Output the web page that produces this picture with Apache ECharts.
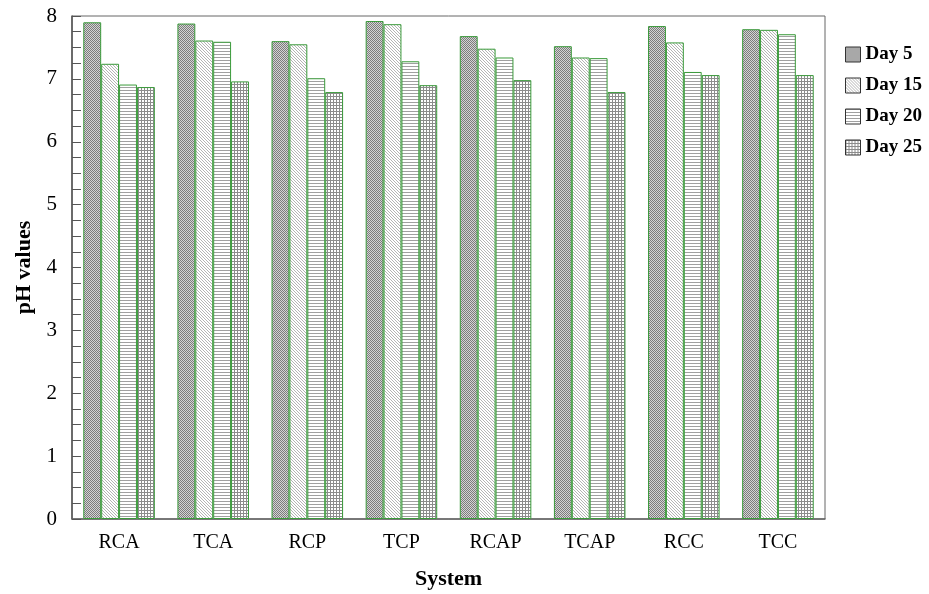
<!DOCTYPE html>
<html>
<head>
<meta charset="utf-8">
<script src="https://cdn.jsdelivr.net/npm/echarts@6/dist/echarts.min.js"></script>
<style>
  html, body { margin: 0; padding: 0; background: #fff; }
  #main { width: 929px; height: 594px; }
</style>
</head>
<body>
<div id="main"></div>
<script>
// 数据
var systems = ['RCA', 'TCA', 'RCP', 'TCP', 'RCAP', 'TCAP', 'RCC', 'TCC'];
var day5  = [7.90, 7.88, 7.60, 7.92, 7.68, 7.52, 7.84, 7.79];
var day15 = [7.24, 7.61, 7.55, 7.87, 7.48, 7.34, 7.58, 7.78];
var day20 = [6.91, 7.59, 7.01, 7.28, 7.34, 7.33, 7.11, 7.71];
var day25 = [6.87, 6.96, 6.79, 6.90, 6.98, 6.79, 7.06, 7.06];
var seriesNames = ['Day 5', 'Day 15', 'Day 20', 'Day 25'];

// 填充图案
function makePattern(kind) {
    var c = document.createElement('canvas');
    var ctx = c.getContext('2d');
    if (kind === 'check') {
        c.width = 2; c.height = 2;
        ctx.fillStyle = '#d4d4d4'; ctx.fillRect(0, 0, 2, 2);
        ctx.fillStyle = '#7c7c7c';
        ctx.fillRect(0, 0, 1, 1); ctx.fillRect(1, 1, 1, 1);
    } else if (kind === 'diag') {
        c.width = 3; c.height = 3;
        ctx.fillStyle = '#fff'; ctx.fillRect(0, 0, 3, 3);
        ctx.fillStyle = '#b4b4b4';
        for (var i = 0; i < 3; i++) ctx.fillRect(i, i, 1, 1);
    } else if (kind === 'horiz') {
        c.width = 3; c.height = 3;
        ctx.fillStyle = '#fff'; ctx.fillRect(0, 0, 3, 3);
        ctx.fillStyle = '#a0a0a0';
        ctx.fillRect(0, 0, 3, 1);
    } else {
        c.width = 3; c.height = 3;
        ctx.fillStyle = '#fff'; ctx.fillRect(0, 0, 3, 3);
        ctx.fillStyle = '#8c8c8c';
        ctx.fillRect(0, 0, 3, 1);
        ctx.fillRect(0, 0, 1, 3);
    }
    return { image: c, repeat: 'repeat' };
}
var patterns = [makePattern('check'), makePattern('diag'), makePattern('horiz'), makePattern('grid')];
var allData = [day5, day15, day20, day25];

var myChart = echarts.init(document.getElementById('main'));

var series = [];
for (var k = 0; k < 4; k++) {
    series.push({
        name: seriesNames[k],
        type: 'bar',
        data: allData[k],
        barGap: '0%',
        barCategoryGap: '24%',
        itemStyle: {
            color: patterns[k],
            borderColor: '#3a9a3a',
            borderWidth: 1
        }
    });
}

var option = {
    animation: false,
    textStyle: { fontFamily: 'Liberation Serif' },
    grid: {
        left: 72, right: 104, top: 16, bottom: 75,
        outerBoundsMode: 'none',
        containLabel: false,
        show: true, borderColor: '#666', borderWidth: 1
    },
    legend: {
        orient: 'vertical',
        left: 840,
        top: 40,
        itemWidth: 15,
        itemHeight: 15,
        itemGap: 12,
        icon: 'rect',
        itemStyle: { borderColor: '#333', borderWidth: 1 },
        textStyle: { fontFamily: 'Liberation Serif', fontWeight: 'bold', fontSize: 19, color: '#000' },
        data: seriesNames
    },
    xAxis: {
        type: 'category',
        data: systems,
        name: 'System',
        nameLocation: 'middle',
        nameGap: 49,
        nameTextStyle: { fontFamily: 'Liberation Serif', fontWeight: 'bold', fontSize: 22, color: '#000' },
        axisLine: { lineStyle: { color: '#666', width: 1.5 } },
        axisTick: { show: false },
        axisLabel: { fontFamily: 'Liberation Serif', fontSize: 20, color: '#000', margin: 14 }
    },
    yAxis: {
        type: 'value',
        min: 0, max: 8, interval: 1,
        name: 'pH values',
        nameLocation: 'middle',
        nameGap: 35,
        nameTextStyle: { fontFamily: 'Liberation Serif', fontWeight: 'bold', fontSize: 22, color: '#000' },
        axisLine: { show: true, lineStyle: { color: '#555', width: 1.5 } },
        axisTick: { show: true, inside: true, length: 9, lineStyle: { color: '#555' } },
        minorTick: { show: true, splitNumber: 4, length: 9, lineStyle: { color: '#555' } },
        splitLine: { show: false },
        axisLabel: { fontFamily: 'Liberation Serif', fontSize: 21, color: '#000', margin: 15 }
    },
    series: series
};

myChart.setOption(option);
</script>
</body>
</html>
